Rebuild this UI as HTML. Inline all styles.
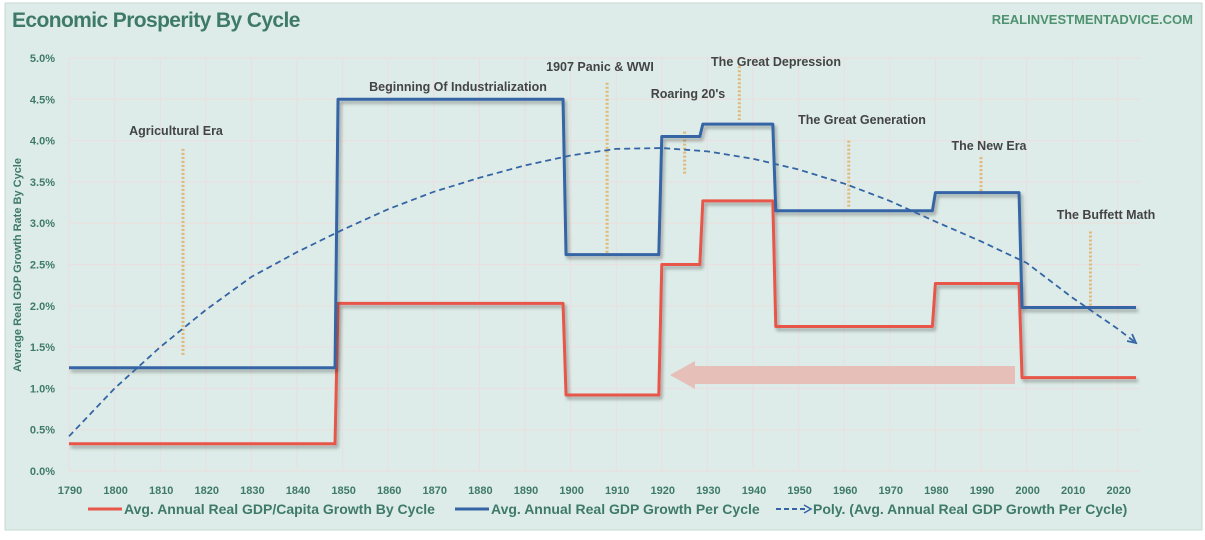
<!DOCTYPE html>
<html><head><meta charset="utf-8"><style>
body{margin:0;width:1205px;height:535px;background:#fff;overflow:hidden;font-family:"Liberation Sans",sans-serif}
</style></head><body>
<svg id="c" width="1205" height="535" font-family="Liberation Sans, sans-serif">
<defs><filter id="sh" x="-5%" y="-5%" width="110%" height="120%"><feDropShadow dx="2" dy="3" stdDeviation="1.5" flood-color="#000" flood-opacity="0.3"/></filter></defs>
<rect x="5" y="3" width="1197" height="527" fill="#ddece8" stroke="#c9d9d5"/>
<text x="12" y="27" font-size="21" font-weight="bold" letter-spacing="-0.6" fill="#3f7a68">Economic Prosperity By Cycle</text>
<text x="1193" y="24" text-anchor="end" font-size="13" font-weight="bold" fill="#4e9270">REALINVESTMENTADVICE.COM</text>
<text transform="translate(21,265) rotate(-90)" text-anchor="middle" font-size="11" font-weight="bold" fill="#3f7a68">Average Real GDP Growth Rate By Cycle</text>
<g id="grid"></g><g id="ann"></g><g id="series"></g><g id="axes"></g>
<g>
<line x1="88" y1="509" x2="122" y2="509" stroke="#e8564a" stroke-width="3"/>
<text x="124" y="514" font-size="14" font-weight="bold" fill="#3f7a68">Avg. Annual Real GDP/Capita Growth By Cycle</text>
<line x1="455" y1="509" x2="489" y2="509" stroke="#3565a5" stroke-width="3"/>
<text x="491" y="514" font-size="14" font-weight="bold" fill="#3f7a68">Avg. Annual Real GDP Growth Per Cycle</text>
<line x1="776" y1="509" x2="806" y2="509" stroke="#3565a5" stroke-width="2" stroke-dasharray="5,3"/>
<path d="M804,505 L811,509 L804,513" fill="none" stroke="#3565a5" stroke-width="1.5"/>
<text x="813" y="514" font-size="14" font-weight="bold" fill="#3f7a68">Poly. (Avg. Annual Real GDP Growth Per Cycle)</text>
</g>
</svg>
<script>
const cycleStarts=[1790,1849,1899,1920,1929,1945,1980,1999];
const cycleEnd=2024;
const gdpGrowth=[1.25,4.5,2.62,4.05,4.2,3.15,3.37,1.98];
const gdpPerCapita=[0.33,2.03,0.92,2.5,3.27,1.75,2.27,1.13];
const polyYears=[1790,1800,1810,1820,1830,1840,1850,1860,1870,1880,1890,1900,1910,1920,1930,1940,1950,1960,1970,1980,1990,2000,2010,2020,2024];
const polyValues=[0.42,1.0,1.5,1.95,2.35,2.65,2.92,3.17,3.38,3.55,3.7,3.82,3.9,3.91,3.87,3.78,3.65,3.48,3.27,3.02,2.78,2.52,2.1,1.72,1.55];
const yTicks=[0,0.5,1,1.5,2,2.5,3,3.5,4,4.5,5];
const xTicks=[1790,1800,1810,1820,1830,1840,1850,1860,1870,1880,1890,1900,1910,1920,1930,1940,1950,1960,1970,1980,1990,2000,2010,2020];
const annLabels=["Agricultural Era","Beginning Of Industrialization","1907 Panic & WWI","Roaring 20's","The Great Depression","The Great Generation","The New Era","The Buffett Math"];
const annYears=[1815,1874,1908,1925,1937,1961,1990,2014];
const annTop=[3.9,4.5,4.7,3.6,4.9,4.0,3.8,2.9];
const annBottom=[1.4,4.5,2.62,4.12,4.25,3.2,3.35,1.95];

const NS="http://www.w3.org/2000/svg";
const X=y=>69+(y-1790)*45.6/10;
const Y=v=>471-v*82.6;
function mk(tag,attrs,parent){const e=document.createElementNS(NS,tag);for(const k in attrs)e.setAttribute(k,attrs[k]);parent.appendChild(e);return e;}
const grid=document.getElementById('grid'),axes=document.getElementById('axes'),ser=document.getElementById('series'),ann=document.getElementById('ann');
yTicks.forEach(t=>{
 const l=mk('line',{x1:69,x2:1140,y1:Y(t),y2:Y(t),stroke:'#ecdede','stroke-width':1},grid);
 
 
 const tx=mk('text',{x:55,y:Y(t)+4,'text-anchor':'end','font-size':11,'font-weight':'bold',fill:'#3f7a68'},axes);
 tx.textContent=t.toFixed(1)+'%';
 
 
});
xTicks.forEach(t=>{
 const l=mk('line',{x1:X(t),x2:X(t),y1:Y(5),y2:Y(0),stroke:'#ecdede','stroke-width':1},grid);
 
 
 const tx=mk('text',{x:X(t)+1,y:494,'text-anchor':'middle','font-size':11,'font-weight':'bold',fill:'#3f7a68'},axes);
 tx.textContent=t;
 
 
});
annLabels.forEach((s,i)=>{
 const l=mk('line',{x1:X(annYears[i]),x2:X(annYears[i]),y1:Y(annTop[i]),y2:Y(annBottom[i]),stroke:'#e0b878','stroke-width':3,'stroke-dasharray':'2,2'},ann);
 
 
});
const annPos=[[176,135],[458,91],[600,71],[688,98],[776,66],[862,124],[989,150],[1106,219]];
annLabels.forEach((s,i)=>{
 const tx=mk('text',{x:annPos[i][0],y:annPos[i][1],'text-anchor':'middle','font-size':12.5,'font-weight':'bold',fill:'#444'},ann);
 tx.textContent=s;
 
 
});
const ar=mk('path',{d:'M1015,366 L695,366 L695,361 L670,375 L695,389 L695,384 L1015,384 Z',fill:'#e8b4ac',opacity:0.8},ser);


function stepPath(vals){let d='';vals.forEach((v,i)=>{const x0=X(cycleStarts[i]),x1=(i<vals.length-1?X(cycleStarts[i+1])-3:X(cycleEnd));d+=(i?'L':'M')+x0+','+Y(v)+'L'+x1+','+Y(v);});return d;}
const r=mk('path',{d:stepPath(gdpPerCapita),fill:'none',stroke:'#e8564a','stroke-width':3,filter:'url(#sh)','stroke-linejoin':'round'},ser);


const b=mk('path',{d:stepPath(gdpGrowth),fill:'none',stroke:'#3565a5','stroke-width':3,filter:'url(#sh)','stroke-linejoin':'round'},ser);


let pd='';polyValues.forEach((v,i)=>{pd+=(i?'L':'M')+X(polyYears[i])+','+Y(v);});
const p=mk('path',{d:pd,fill:'none',stroke:'#3565a5','stroke-width':1.8,'stroke-dasharray':'6,4'},ser);


const n=polyValues.length,ex=X(polyYears[n-1]),ey=Y(polyValues[n-1]);
const ah=mk('path',{d:`M${ex-9},${ey-2} L${ex},${ey} L${ex-4},${ey-9}`,fill:'none',stroke:'#3565a5','stroke-width':1.8},ser);


</script>
</body></html>
